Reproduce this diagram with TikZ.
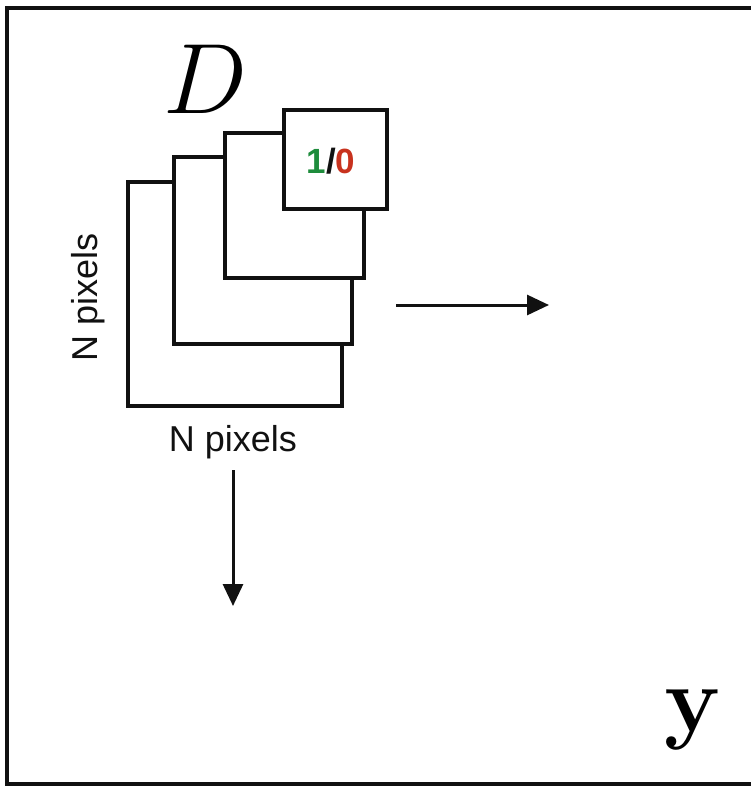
\documentclass[tikz,border=0pt]{standalone}
\usepackage{fix-cm}
\usepackage[no-math]{fontspec}
\setmainfont{Liberation Sans}
\usetikzlibrary{arrows.meta,positioning}
\definecolor{ink}{HTML}{111111}
\definecolor{onegreen}{HTML}{1E8C3C}
\definecolor{zerored}{HTML}{C8321E}

\begin{document}
\begin{tikzpicture}[x=1pt,y=-1pt,
  sq/.style={draw=ink,fill=white,line width=3.5pt,inner sep=0pt,anchor=north west},
  lbl/.style={font=\fontsize{36}{36}\selectfont,inner sep=0pt,text=ink},
  ar/.style={ink,line width=3pt,-{Triangle[length=22pt,width=20pt]}}]
\useasboundingbox (0,0) rectangle (751,788);
\draw[ink,line width=4pt] (751,8)--(7,8)--(7,784)--(751,784);
% stack of patches, back to front
\node[sq,minimum width=214pt,minimum height=224pt] (sq1) at (126,180) {};
\node[sq,minimum width=178pt,minimum height=187pt] (sq2) at (172,155) {};
\node[sq,minimum width=139pt,minimum height=145pt] (sq3) at (223,131) {};
\node[sq,minimum width=103pt,minimum height=99pt] (sq4) at (282,108) {};
\node[inner sep=0pt,font=\fontsize{35}{35}\selectfont\bfseries] (bit) at (331,161) {\textcolor{onegreen}{1}\textcolor{ink}{/}\textcolor{zerored}{0}};
\node[inner sep=0pt,font=\fontsize{100}{100}\selectfont] (dname) at (206,79) {$D$};
\node[lbl] (npxb) at (233,442) {N pixels};
\node[lbl,rotate=90] (npxl) at (88,297) {N pixels};
\node[inner sep=0pt,font=\fontsize{94}{94}\selectfont] (yname) at (693,720) {$\mathbf{y}$};
% arrows
\coordinate (ra) at (396,305);\coordinate (rb) at (549,305);
\coordinate (da) at (233,470);\coordinate (db) at (233,606);
\draw[ar] (ra)--(rb);\draw[ar] (da)--(db);
\end{tikzpicture}
\end{document}
